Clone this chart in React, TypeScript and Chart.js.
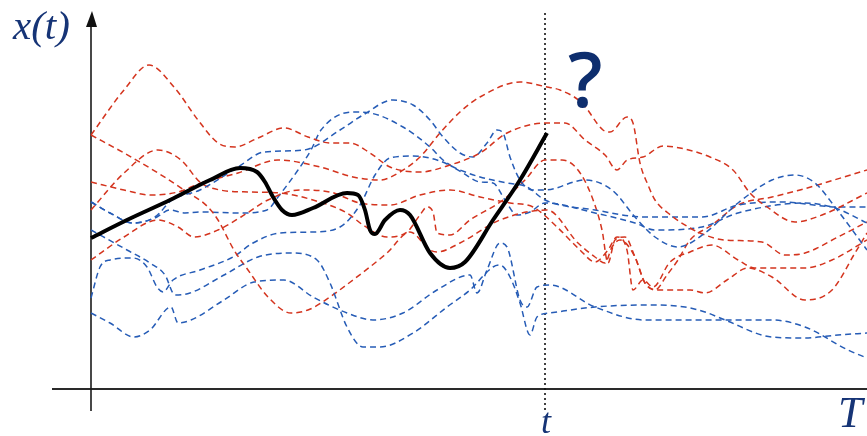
import React, { useEffect, useRef } from "react";
import { Chart, registerables } from "chart.js";

Chart.register(...registerables);

// time axis (0 = origin) and value axis ranges
const timeMin = 0;
const timeMax = 776;
const valueMin = 0;
const valueMax = 388;
const presentTime = 454;

// observed path x(t) up to the present
const observedT = [0, 36, 79, 119, 149, 166, 174, 182, 191, 201, 222, 256, 267, 274, 279, 284, 294, 309, 319, 339, 359, 374, 402, 429, 456];
const observedV = [150, 168, 188, 208, 220, 216, 206, 191, 178, 173, 180, 195, 193, 178, 158, 154, 168, 178, 173, 135, 120, 126, 168, 208, 255];

// blue sample paths
const blue1T = [0, 19, 42, 64, 81, 109, 147, 173, 213, 249, 272, 302, 322, 339, 352, 369, 382, 396, 406, 412, 419, 429, 442, 454, 494, 521, 544, 564, 587, 614, 647, 681, 704, 724, 744, 776];
const blue1V = [186, 175, 165, 171, 188, 198, 221, 236, 238, 258, 273, 288, 283, 268, 251, 235, 231, 245, 258, 255, 231, 208, 198, 198, 208, 198, 171, 151, 141, 155, 185, 208, 213, 205, 181, 138];
const blue2T = [0, 36, 59, 74, 84, 99, 133, 167, 200, 226, 239, 256, 272, 289, 322, 356, 379, 402, 409, 419, 429, 439, 446, 459, 504, 554, 594, 614, 634, 681, 714, 747, 776];
const blue2V = [158, 138, 125, 113, 93, 95, 113, 131, 135, 128, 105, 61, 41, 41, 55, 81, 98, 121, 123, 111, 85, 53, 71, 75, 81, 83, 81, 76, 68, 51, 50, 53, 55];
const blue3T = [0, 9, 19, 42, 56, 66, 72, 82, 109, 142, 162, 189, 222, 249, 269, 284, 299, 322, 346, 369, 389, 416, 436, 454, 504, 554, 611, 647, 691, 747, 776];
const blue3V = [90, 121, 128, 130, 121, 101, 96, 108, 118, 131, 145, 155, 156, 161, 183, 213, 230, 232, 228, 218, 211, 205, 201, 188, 178, 171, 171, 183, 186, 181, 181];
const blue4T = [0, 19, 43, 59, 80, 87, 100, 133, 163, 193, 222, 256, 282, 312, 346, 379, 386, 396, 409, 416, 429, 436, 446, 459, 504, 554, 614, 681, 714, 757, 776];
const blue4V = [75, 65, 51, 58, 81, 65, 68, 88, 106, 108, 91, 75, 68, 75, 98, 113, 95, 118, 145, 141, 88, 81, 101, 103, 81, 68, 68, 68, 61, 38, 30];
const blue5T = [0, 19, 42, 64, 79, 94, 109, 149, 176, 187, 207, 220, 230, 262, 279, 312, 339, 352, 372, 389, 402, 414, 426, 439, 454, 504, 544, 564, 611, 647, 714, 744, 776];
const blue5V = [186, 175, 165, 170, 178, 175, 176, 175, 178, 191, 218, 238, 258, 276, 275, 261, 241, 228, 215, 206, 205, 188, 173, 176, 185, 175, 165, 158, 161, 175, 185, 180, 165];

// red sample paths
const red1T = [0, 33, 58, 83, 107, 127, 144, 167, 193, 217, 239, 259, 279, 299, 329, 359, 389, 416, 456, 474, 494, 514, 526, 536, 552, 572, 589, 619, 642, 659, 676, 704, 731, 776];
const red1V = [253, 298, 323, 301, 268, 245, 241, 250, 260, 251, 245, 245, 235, 221, 216, 223, 235, 255, 265, 265, 248, 233, 218, 228, 231, 242, 240, 231, 218, 195, 181, 166, 173, 195];
const red2T = [0, 33, 60, 87, 110, 147, 187, 229, 262, 289, 309, 329, 349, 369, 389, 429, 456, 469, 491, 512, 519, 536, 542, 549, 557, 564, 577, 599, 614, 634, 671, 694, 714, 747, 776];
const red2V = [206, 198, 193, 196, 205, 215, 228, 221, 211, 208, 216, 231, 255, 276, 291, 306, 301, 298, 285, 258, 256, 271, 265, 225, 203, 188, 175, 160, 153, 148, 146, 133, 135, 151, 166];
const red3T = [0, 33, 67, 93, 117, 127, 143, 157, 177, 200, 217, 230, 262, 296, 319, 339, 346, 369, 409, 456, 487, 504, 514, 521, 529, 544, 554, 569, 599, 614, 636, 657, 681, 714, 741, 764, 776];
const red3V = [253, 235, 215, 198, 181, 168, 138, 118, 91, 75, 78, 85, 108, 135, 156, 138, 136, 145, 168, 178, 145, 131, 125, 141, 148, 131, 105, 98, 98, 95, 108, 120, 111, 88, 98, 135, 155];
const red4T = [0, 33, 67, 90, 110, 129, 159, 189, 222, 256, 272, 296, 316, 329, 336, 342, 346, 359, 379, 412, 434, 454, 471, 487, 501, 511, 517, 524, 534, 544, 554, 564, 576, 587, 599, 621, 647, 681, 709, 776];
const red4V = [178, 215, 238, 228, 205, 198, 196, 195, 188, 175, 163, 151, 156, 173, 181, 176, 155, 153, 168, 188, 208, 228, 228, 218, 191, 158, 125, 148, 151, 131, 105, 98, 113, 128, 148, 163, 183, 191, 198, 218];
const red5T = [0, 33, 67, 87, 103, 127, 150, 177, 209, 239, 269, 299, 329, 359, 389, 419, 442, 466, 489, 504, 517, 526, 536, 542, 552, 562, 579, 599, 621, 647, 664, 714, 741, 776];
const red5V = [128, 151, 168, 161, 151, 158, 171, 188, 198, 196, 185, 183, 193, 198, 191, 185, 181, 161, 138, 126, 138, 151, 138, 98, 108, 101, 126, 136, 143, 128, 120, 120, 128, 148];

const RED = "rgb(212, 52, 30)";
const BLUE = "rgb(38, 92, 182)";
const NAVY = "rgb(22, 52, 118)";

const toPoints = (xs: number[], ys: number[]) => xs.map((x, i) => ({ x, y: ys[i] }));

const dashed = (xs: number[], ys: number[], color: string) => ({
  data: toPoints(xs, ys),
  borderColor: color,
  borderWidth: 1.5,
  borderDash: [6, 4],
  pointRadius: 0,
  fill: false,
  cubicInterpolationMode: "monotone" as const,
  clip: false as const,
});

const decorPlugin = {
  id: "decor",
  beforeDatasetsDraw(chart: any) {
    const { ctx, scales } = chart;
    const x0 = scales.x.getPixelForValue(timeMin);
    const y0 = scales.y.getPixelForValue(valueMin);
    const xt = scales.x.getPixelForValue(presentTime);
    ctx.save();
    // horizontal axis
    ctx.strokeStyle = "#2a2a2a";
    ctx.lineWidth = 2;
    ctx.beginPath();
    ctx.moveTo(x0 - 39, y0 + 1);
    ctx.lineTo(chart.width, y0 + 1);
    ctx.stroke();
    // vertical axis
    ctx.lineWidth = 1.6;
    ctx.strokeStyle = "#1a1a1a";
    ctx.beginPath();
    ctx.moveTo(x0, y0 + 23);
    ctx.lineTo(x0, 24);
    ctx.stroke();
    ctx.fillStyle = "#111";
    ctx.beginPath();
    ctx.moveTo(x0 + 1, 11);
    ctx.lineTo(x0 - 5, 27);
    ctx.lineTo(x0 + 6, 27);
    ctx.closePath();
    ctx.fill();
    // present time dotted line
    ctx.strokeStyle = "#111";
    ctx.lineWidth = 1.6;
    ctx.setLineDash([2, 3]);
    ctx.beginPath();
    ctx.moveTo(xt, 13);
    ctx.lineTo(xt, y0 + 22);
    ctx.stroke();
    ctx.restore();
  },
  afterDraw(chart: any) {
    const { ctx, scales } = chart;
    const xt = scales.x.getPixelForValue(presentTime);
    ctx.save();
    ctx.fillStyle = NAVY;
    ctx.textBaseline = "alphabetic";
    ctx.font = 'italic 41px "Liberation Serif", "DejaVu Serif", serif';
    ctx.textAlign = "left";
    ctx.fillText("x(t)", 13, 39);
    ctx.textAlign = "center";
    ctx.font = 'italic 36px "Liberation Serif", "DejaVu Serif", serif';
    ctx.fillText("t", xt + 1, 433);
    ctx.textAlign = "left";
    ctx.font = 'italic 44px "Liberation Serif", "DejaVu Serif", serif';
    ctx.fillText("T", 838, 427);
    ctx.font = '600 76px "Open Sans", "Noto Sans", sans-serif';
    ctx.fillStyle = "rgb(14, 46, 110)";
    ctx.fillText("?", 568, 107);
    ctx.restore();
  },
};

export default function App() {
  const canvasRef = useRef<HTMLCanvasElement | null>(null);

  useEffect(() => {
    document.body.style.margin = "0";
    const canvas = canvasRef.current;
    if (!canvas) return;
    const chart = new Chart(canvas, {
      type: "line",
      data: {
        datasets: [
          {
            data: toPoints(observedT, observedV),
            borderColor: "#000",
            borderWidth: 4,
            pointRadius: 0,
            fill: false,
            cubicInterpolationMode: "monotone",
            clip: false,
          } as any,
          dashed(red1T, red1V, RED),
          dashed(blue1T, blue1V, BLUE),
          dashed(red2T, red2V, RED),
          dashed(blue2T, blue2V, BLUE),
          dashed(red3T, red3V, RED),
          dashed(blue3T, blue3V, BLUE),
          dashed(red4T, red4V, RED),
          dashed(blue4T, blue4V, BLUE),
          dashed(red5T, red5V, RED),
          dashed(blue5T, blue5V, BLUE),
        ],
      },
      options: {
        animation: false,
        responsive: false,
        events: [],
        layout: { padding: { left: 91, right: 0, top: 0, bottom: 48 } },
        scales: {
          x: { type: "linear", min: timeMin, max: timeMax, display: false },
          y: { type: "linear", min: valueMin, max: valueMax, display: false },
        },
        plugins: {
          legend: { display: false },
          tooltip: { enabled: false },
          title: { display: false },
        },
      },
      plugins: [decorPlugin],
    });
    return () => chart.destroy();
  }, []);

  return (
    <div style={{ width: 867, height: 436, background: "#fff" }}>
      <canvas ref={canvasRef} width={867} height={436} style={{ display: "block" }} />
    </div>
  );
}
